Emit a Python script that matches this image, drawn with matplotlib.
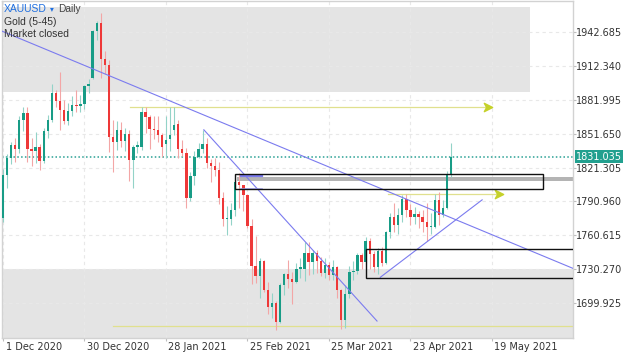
import numpy as np
import matplotlib
matplotlib.use("Agg")
import matplotlib.pyplot as plt
from matplotlib.path import Path
from matplotlib.patches import Rectangle
from matplotlib.transforms import ScaledTranslation

# XAUUSD daily candles, one entry per trading day from 1 Dec 2020 to 7 May 2021
opens = [1776, 1815, 1830, 1841, 1838, 1864, 1870, 1838, 1836, 1840, 1827, 1854, 1864, 1888, 1881, 1873, 1863, 1872, 1877, 1876, 1878, 1894,
         1901, 1943, 1950, 1918, 1913, 1849, 1844, 1855, 1845, 1851, 1828, 1840, 1840, 1871, 1866, 1856, 1855, 1850, 1842, 1847,
         1855, 1860, 1838, 1834, 1794, 1814, 1831, 1838, 1842, 1825, 1823, 1819, 1794, 1775, 1775, 1783, 1808, 1806, 1797, 1769,
         1733, 1724, 1738, 1712, 1697, 1700, 1683, 1716, 1726, 1722, 1719, 1731, 1731, 1745, 1737, 1745, 1738, 1727, 1734, 1725, 1732, 1712, 1685,
         1708, 1728, 1729, 1743, 1737, 1756, 1744, 1732, 1747, 1736, 1764, 1777, 1770, 1779, 1793, 1783, 1777, 1780, 1777, 1773, 1768,
         1768, 1792, 1779, 1785, 1815]
highs = [1820, 1833, 1844, 1848, 1867, 1875, 1875, 1848, 1853, 1842, 1857, 1868, 1896, 1891, 1907, 1882, 1879, 1885, 1891, 1886, 1895, 1900,
         1944, 1952, 1959, 1925, 1917, 1864, 1863, 1862, 1857, 1855, 1841, 1845, 1875, 1875, 1868, 1867, 1867, 1852, 1867, 1875,
         1875, 1864, 1846, 1839, 1817, 1836, 1843, 1855, 1848, 1829, 1830, 1826, 1799, 1787, 1790, 1812, 1816, 1806, 1798, 1775,
         1760, 1740, 1739, 1719, 1709, 1702, 1718, 1727, 1739, 1728, 1736, 1740, 1755, 1755, 1748, 1748, 1741, 1740, 1737, 1739, 1733, 1713, 1716,
         1733, 1738, 1745, 1745, 1759, 1758, 1747, 1749, 1750, 1765, 1781, 1790, 1785, 1797, 1798, 1789, 1786, 1782, 1783, 1790, 1781,
         1798, 1799, 1792, 1818, 1843]
lows = [1773, 1803, 1824, 1826, 1834, 1854, 1826, 1823, 1825, 1819, 1825, 1848, 1862, 1875, 1855, 1860, 1859, 1867, 1871, 1871, 1874, 1888,
        1900, 1935, 1901, 1905, 1835, 1817, 1837, 1840, 1836, 1809, 1803, 1834, 1837, 1852, 1838, 1847, 1844, 1831, 1830, 1836,
        1850, 1830, 1832, 1785, 1791, 1806, 1830, 1834, 1821, 1808, 1814, 1789, 1769, 1761, 1770, 1778, 1785, 1782, 1767, 1717,
        1718, 1705, 1710, 1690, 1687, 1676, 1682, 1707, 1714, 1699, 1718, 1723, 1720, 1725, 1726, 1727, 1724, 1723, 1721, 1721, 1705, 1677, 1678,
        1705, 1721, 1726, 1731, 1735, 1731, 1728, 1726, 1733, 1735, 1758, 1764, 1762, 1773, 1777, 1770, 1771, 1767, 1764, 1756, 1762,
        1767, 1770, 1777, 1784, 1813]
closes = [1815, 1830, 1841, 1838, 1864, 1870, 1838, 1836, 1840, 1827, 1854, 1864, 1888, 1881, 1873, 1863, 1872, 1877, 1876, 1878, 1894, 1896,
          1943, 1950, 1918, 1913, 1849, 1844, 1855, 1845, 1851, 1828, 1840, 1841, 1871, 1866, 1856, 1855, 1850, 1840, 1846, 1850,
          1859, 1838, 1834, 1794, 1814, 1831, 1838, 1842, 1825, 1823, 1819, 1794, 1775, 1776, 1783, 1808, 1806, 1797, 1769, 1733,
          1724, 1738, 1712, 1697, 1700, 1683, 1716, 1726, 1722, 1719, 1731, 1732, 1745, 1737, 1745, 1738, 1727, 1734, 1725, 1732, 1712, 1685, 1708,
          1728, 1729, 1743, 1737, 1756, 1744, 1732, 1747, 1736, 1764, 1777, 1770, 1779, 1793, 1783, 1777, 1780, 1777, 1773, 1768, 1769,
          1792, 1779, 1785, 1815, 1831.035]

date_ticks = [0, 20, 40, 60, 80, 100, 120]
date_labels = ["1 Dec 2020", "30 Dec 2020", "28 Jan 2021", "25 Feb 2021",
               "25 Mar 2021", "23 Apr 2021", "19 May 2021"]
price_ticks = [1699.925, 1730.270, 1760.615, 1790.960, 1821.305,
               1851.650, 1881.995, 1912.340, 1942.685]
last_price = 1831.035

# drawings on the chart, in (bar index, price)
zones = [(-1, 129.3, 1889.1, 1964.8), (-1, 141, 1660, 1730.5)]
boxes = [(56.9, 132.6, 1802.4, 1815.2), (89.2, 141, 1722.8, 1748.2)]
band = (57.5, 141, 1809.2, 1812.5)
trend_lines = [((-1, 1944.3), (141, 1729.5)),
               ((49.3, 1855.0), (91.8, 1684.1)),
               ((92.6, 1723.2), (117.6, 1792.4))]
arrow_lines = [(31.1, 119.1, 1875.1), (94.6, 121.7, 1797.4)]
support_line = (27.0, 141, 1679.6)

green, red = "#189c86", "#ee3838"
green_wick, red_wick = "#93d3c8", "#f3a6a6"
blue = "#7b7bef"
yellow, yellow_head = "#e0e08e", "#c5d12a"

o = np.array(opens, float)
h = np.array(highs, float)
l = np.array(lows, float)
c = np.array(closes, float)
idx = np.arange(len(o))
up = c >= o

fig = plt.figure(figsize=(6.25, 3.52), dpi=100)
ax = fig.add_axes([1.7 / 625, 14.5 / 352, 571.3 / 625, 336.5 / 352])
ax.set_xlim(-0.32, 139.9)
ax.set_ylim(1669.4, 1970.1)

for x0, x1, y0, y1 in zones:
    ax.add_patch(Rectangle((x0, y0), x1 - x0, y1 - y0, fc="#e4e4e4", ec="none", zorder=0.5))

for t in date_ticks:
    ax.axvline(t, color="#e8e8e8", lw=0.8, ls=(0, (3, 3)), zorder=0.8)
for p in price_ticks:
    ax.axhline(p, color="#e8e8e8", lw=0.8, ls=(0, (3, 3)), zorder=0.8)

ax.add_patch(Rectangle((band[0], band[2]), band[1] - band[0], band[3] - band[2],
                       fc="#b4b4b4", ec="none", zorder=1))

# yellow levels with arrow heads
head = Path([(-1, 1), (1, 0), (-1, -1), (-0.45, 0), (-1, 1)],
            [Path.MOVETO, Path.LINETO, Path.LINETO, Path.LINETO, Path.CLOSEPOLY])
for x0, x1, y in arrow_lines:
    ax.plot([x0, x1], [y, y], color=yellow, lw=0.9, zorder=2)
    ax.plot(x1, y, marker=head, ms=6, color=yellow_head, mec=yellow_head, zorder=2)
ax.plot([support_line[0], support_line[1]], [support_line[2]] * 2, color=yellow, lw=0.9, zorder=2)

ax.axhline(last_price, color="#2aa194", lw=1.1, ls=(0, (1, 1.5)), zorder=2)

# candles
ax.vlines(idx, l, h, colors=np.where(up, green_wick, red_wick), lw=0.8, zorder=3)
body = np.maximum(np.abs(c - o), 0.7)
ax.bar(idx, body, bottom=np.minimum(o, c), width=0.58,
       color=np.where(up, green, red), linewidth=0, zorder=4)

for (x0, y0), (x1, y1) in trend_lines:
    ax.plot([x0, x1], [y0, y1], color=blue, lw=0.8, zorder=5)
ax.plot([58.5, 63.5], [1813.3, 1813.3], color=blue, lw=1.6, zorder=5)
ax.plot([58.5, 63.5], [1802.4, 1802.4], color="#a9a9f5", lw=1.2, zorder=5)

for x0, x1, y0, y1 in boxes:
    ax.add_patch(Rectangle((x0, y0), x1 - x0, y1 - y0, fc="none", ec="#111111", lw=1.0, zorder=6))

# axes styling
for s in ax.spines.values():
    s.set_color("#d2d2d2")
    s.set_linewidth(1.0)
ax.set_xticks(date_ticks)
ax.set_xticklabels(date_labels, ha="left")
ax.yaxis.tick_right()
ax.set_yticks(price_ticks)
ax.set_yticklabels([f"{p:.3f}" for p in price_ticks])
ax.tick_params(axis="x", length=2.2, width=0.8, color="#bdbdbd", labelsize=7, labelcolor="#333333", pad=1)
ax.tick_params(axis="y", length=2.2, width=0.8, color="#bdbdbd", labelsize=7, labelcolor="#333333", pad=0)
shift = ScaledTranslation(2.5 / 100, 0, fig.dpi_scale_trans)
for lbl in ax.get_xticklabels():
    lbl.set_transform(lbl.get_transform() + shift)

ax.annotate(f"{last_price:.3f}", xy=(1, last_price), xycoords=("axes fraction", "data"),
            xytext=(3, 0), textcoords="offset pixels", ha="left", va="center",
            fontsize=7, color="white", annotation_clip=False,
            bbox=dict(boxstyle="square,pad=0.15", fc="#22a08f", ec="none"))

# header text
hdr = ["Liberation Sans", "DejaVu Sans"]
fig.text(4 / 625, 1 - 8.9 / 352, "XAUUSD", color="#1f6fe0", fontsize=7.5, family=hdr, va="center")
fig.text(50 / 625, 1 - 9.4 / 352, "▾", color="#1f6fe0", fontsize=5.5, family=hdr, va="center")
fig.text(58 / 625, 1 - 8.9 / 352, "Daily", color="#444444", fontsize=7.3, family=hdr, va="center")
fig.text(4 / 625, 1 - 22.3 / 352, "Gold (5-45)", color="#333333", fontsize=7.5, family=hdr, va="center")
fig.text(4 / 625, 1 - 33.7 / 352, "Market closed", color="#333333", fontsize=7.5, family=hdr, va="center")

fig.savefig("out.png", dpi=100)
